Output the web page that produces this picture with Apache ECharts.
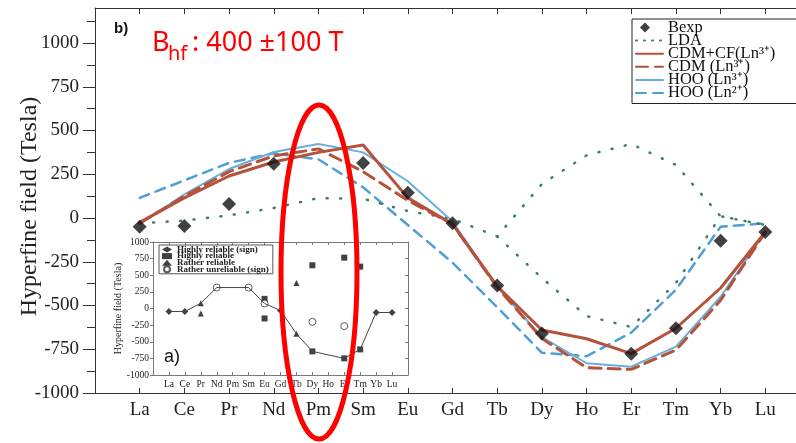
<!DOCTYPE html>
<html>
<head>
<meta charset="utf-8">
<script src="https://cdn.jsdelivr.net/npm/echarts@6/dist/echarts.min.js"></script>
<style>
html, body { margin: 0; padding: 0; background: #fff; }
#chart-container { width: 796px; height: 443px; }
</style>
</head>
<body>
<div id="chart-container"></div>
<script>
var dom = document.getElementById('chart-container');
var myChart = echarts.init(dom, null, {
    renderer: 'canvas',
    useDirtyRect: false
});

// lanthanides along the x axis
var elements = ['La', 'Ce', 'Pr', 'Nd', 'Pm', 'Sm', 'Eu', 'Gd', 'Tb', 'Dy', 'Ho', 'Er', 'Tm', 'Yb', 'Lu'];

// main panel b), hyperfine field in Tesla
var bexp    = [-50, -45, 80, 310, null, 315, 145, -30, -385, -660, null, -775, -630, -130, -80];
var ldaUp   = [-30, -15, 15, 57, 114, 110, 40, -5, -105, 194, 358, 423, 303, 10, -40];
var ldaDown = [null, null, null, null, null, null, null, null, -105, -343, -560, -623, -371, 10, -40];
var cdmCf   = [-25, 115, 240, 320, 375, 417, 115, -35, -390, -640, -690, -775, -630, -400, -80];
var cdm     = [-30, 125, 265, 355, 395, 265, 100, -35, -395, -688, -855, -865, -755, -470, -80];
var hoo3    = [-35, 135, 280, 377, 423, 375, 210, -20, -395, -680, -830, -850, -735, -450, -80];
var hoo2    = [115, 215, 315, 370, 335, 175, -40, -255, -510, -770, -790, -655, -410, -50, -30];

var yTicks = [-1000, -750, -500, -250, 0, 250, 500, 750, 1000];
var yMinor = [-875, -625, -375, -125, 125, 375, 625, 875, 1125];

// inset a)
var insetLine = [-45, -45, 80, 315, null, 315, 75, -30, -380, -645, null, -750, -615, -60, -60];
var insetSign = [['La', -45], ['Ce', -45], ['Gd', -30], ['Yb', -60], ['Lu', -60]];
var insetHighly = [['Eu', 145], ['Eu', -150], ['Dy', -645], ['Dy', 650], ['Er', -750], ['Er', 765], ['Tm', -615], ['Tm', 630]];
var insetRather = [['Pr', 80], ['Pr', -75], ['Tb', -380], ['Tb', 385]];
var insetUnrel = [['Nd', 315], ['Sm', 315], ['Eu', 75], ['Dy', -200], ['Er', -265]];

var serif = 'Liberation Serif';
var brown = '#b5523b';
var blue = '#6aaedb';
var blueDash = '#4f9fd4';
var green = '#3c7d62';

function pairs(values) {
    return values.map(function (v, i) { return [i, v]; });
}
function points(list) {
    return list.map(function (p) { return [elements.indexOf(p[0]), p[1]]; });
}
function elementLabel(v) {
    return elements[v] || '';
}
function plain(v) {
    return String(v);
}
function legendText(name) {
    return name.replace('Ln3+', 'Ln\u00b3\u207a').replace('Ln2+', 'Ln\u00b2\u207a');
}

function lineSeries(name, values, color, width, type) {
    return {
        name: name,
        type: 'line',
        xAxisIndex: 0,
        yAxisIndex: 0,
        data: pairs(values),
        symbol: 'none',
        lineStyle: { color: color, width: width, type: type, cap: 'round' },
        itemStyle: { color: color },
        silent: true
    };
}

function xAxisOf(grid, pos, color, tickLen, label) {
    return {
        gridIndex: grid, type: 'value', position: pos, min: -1, max: 15, interval: 1,
        axisLine: { onZero: false, lineStyle: { color: color } },
        axisTick: { inside: true, length: tickLen, lineStyle: { color: color } },
        axisLabel: label || { show: false },
        splitLine: { show: false }
    };
}

var hideSymbol = { opacity: 0 };
// small diamond sitting in a wide icon box, so the legend does not stretch it
var diamondIcon = 'path://M0,5L0.01,5M9,0L14,5L9,10L4,5ZM27,5L27.01,5';

var option = {
    animation: false,
    grid: [
        { left: 95, top: 8, width: 715, height: 385, outerBoundsMode: 'none', containLabel: false },
        { left: 153, top: 242, width: 255, height: 133, show: true, backgroundColor: '#fff', borderWidth: 0,
          outerBoundsMode: 'none', containLabel: false }
    ],
    xAxis: [
        xAxisOf(0, 'bottom', '#333', 5, { formatter: elementLabel, fontFamily: serif, fontSize: 19, color: '#222', margin: 8 }),
        xAxisOf(0, 'top', '#333', 6),
        xAxisOf(1, 'bottom', '#777', 3, { formatter: elementLabel, fontFamily: serif, fontSize: 9.5, color: '#222', margin: 4 }),
        xAxisOf(1, 'top', '#777', 3)
    ],
    yAxis: [
        {
            gridIndex: 0, type: 'value', position: 'left', min: -1000, max: 1200,
            axisLine: { show: true, onZero: false, lineStyle: { color: '#333' } },
            axisTick: { show: true, length: 12, customValues: yTicks, lineStyle: { color: '#333' } },
            axisLabel: { customValues: yTicks, formatter: plain, fontFamily: serif, fontSize: 19, color: '#222', margin: 16 },
            splitLine: { show: false },
            name: 'Hyperfine field (Tesla)',
            nameLocation: 'middle',
            nameGap: 53,
            nameMoveOverlap: false,
            nameTextStyle: { fontFamily: serif, fontSize: 24, color: '#222', padding: [0, 12, 0, 0] }
        },
        {
            gridIndex: 0, type: 'value', position: 'left', min: -1000, max: 1200,
            axisLine: { show: false, onZero: false },
            axisTick: { show: true, length: 8, customValues: yMinor, lineStyle: { color: '#333' } },
            axisLabel: { show: false },
            splitLine: { show: false }
        },
        {
            gridIndex: 1, type: 'value', position: 'left', min: -1000, max: 1000, interval: 250,
            axisLine: { show: true, onZero: false, lineStyle: { color: '#777' } },
            axisTick: { show: true, length: 3, lineStyle: { color: '#777' } },
            axisLabel: { formatter: plain, fontFamily: serif, fontSize: 9.5, color: '#222', margin: 4 },
            splitLine: { show: false },
            name: 'Hyperfine field (Tesla)',
            nameLocation: 'middle',
            nameGap: 26,
            nameTextStyle: { fontFamily: serif, fontSize: 10, color: '#222' }
        },
        {
            gridIndex: 1, type: 'value', position: 'right', min: -1000, max: 1000, interval: 250,
            axisLine: { show: true, onZero: false, lineStyle: { color: '#777' } },
            axisTick: { show: true, inside: true, length: 3, lineStyle: { color: '#777' } },
            axisLabel: { show: false },
            splitLine: { show: false }
        }
    ],
    legend: [
        {
            data: [
                { name: 'Bexp', icon: diamondIcon },
                { name: 'LDA', lineStyle: { type: [1, 7] }, itemStyle: hideSymbol },
                { name: 'CDM+CF(Ln3+)', itemStyle: hideSymbol },
                { name: 'CDM (Ln3+)', itemStyle: hideSymbol },
                { name: 'HOO (Ln3+)', itemStyle: hideSymbol },
                { name: 'HOO (Ln2+)', itemStyle: hideSymbol }
            ],
            orient: 'vertical',
            left: 632, top: 19,
            itemWidth: 27, itemHeight: 10, itemGap: -3.9,
            backgroundColor: '#fff', borderColor: '#222', borderWidth: 1,
            padding: [0, 60, 2, 3],
            selectedMode: false,
            formatter: legendText,
            textStyle: { fontFamily: serif, fontSize: 16.5, color: '#111' }
        },
        {
            data: ['Highly reliable (sign)', 'Highly reliable', 'Rather reliable', 'Rather unreliable (sign)'],
            orient: 'vertical',
            left: 159, top: 245,
            itemWidth: 10, itemHeight: 6, itemGap: -2.4,
            backgroundColor: '#fff', borderColor: '#555', borderWidth: 1,
            padding: [0, 4, 0, 3],
            selectedMode: false,
            textStyle: { fontFamily: serif, fontSize: 9, fontWeight: 'bold', color: '#222' }
        }
    ],
    series: [
        lineSeries('HOO (Ln2+)', hoo2, blueDash, 2.5, [10, 7]),
        lineSeries('LDA', ldaUp, green, 2.5, [1, 12.5]),
        lineSeries('LDA', ldaDown, green, 2.5, [1, 12.5]),
        lineSeries('HOO (Ln3+)', hoo3, blue, 2, 'solid'),
        lineSeries('CDM (Ln3+)', cdm, brown, 3, [12, 7]),
        lineSeries('CDM+CF(Ln3+)', cdmCf, brown, 3, 'solid'),
        {
            name: 'Bexp', type: 'scatter', xAxisIndex: 0, yAxisIndex: 0,
            data: pairs(bexp).filter(function (p) { return p[1] !== null; }),
            symbol: 'diamond', symbolSize: 14,
            itemStyle: { color: '#111' }, silent: true, z: 4
        },
        {
            name: 'inset', type: 'line', xAxisIndex: 2, yAxisIndex: 2,
            data: pairs(insetLine), connectNulls: true, symbol: 'none',
            lineStyle: { color: '#444', width: 1 }, silent: true
        },
        {
            name: 'Highly reliable (sign)', type: 'scatter', xAxisIndex: 2, yAxisIndex: 2,
            data: points(insetSign), symbol: 'diamond', symbolSize: 7,
            itemStyle: { color: '#111' }, silent: true
        },
        {
            name: 'Highly reliable', type: 'scatter', xAxisIndex: 2, yAxisIndex: 2,
            data: points(insetHighly), symbol: 'rect', symbolSize: 6,
            itemStyle: { color: '#111' }, silent: true
        },
        {
            name: 'Rather reliable', type: 'scatter', xAxisIndex: 2, yAxisIndex: 2,
            data: points(insetRather), symbol: 'triangle', symbolSize: 6,
            itemStyle: { color: '#111' }, silent: true
        },
        {
            name: 'Rather unreliable (sign)', type: 'scatter', xAxisIndex: 2, yAxisIndex: 2,
            data: points(insetUnrel), symbol: 'circle', symbolSize: 7,
            itemStyle: { color: '#fff', borderColor: '#333', borderWidth: 1 }, silent: true
        }
    ],
    graphic: [
        { type: 'text', x: 114, y: 21, style: { text: 'b)', font: 'bold 15px "Liberation Sans"', fill: '#111' } },
        { type: 'text', x: 164, y: 348, style: { text: 'a)', font: '18px "Liberation Sans"', fill: '#111' } },
        { type: 'text', x: 152, y: 30, style: { text: 'B', font: '27px "Noto Sans"', fill: '#ff0000' } },
        { type: 'text', x: 168, y: 44, style: { text: 'hf', font: '20px "Noto Sans"', fill: '#ff0000' } },
        { type: 'text', x: 192, y: 30, style: { text: ': 400 \u00b1100 T', font: '27px "Noto Sans"', fill: '#ff0000' } },
        {
            type: 'ellipse', z: 100,
            shape: { cx: 319, cy: 272, rx: 38, ry: 167 },
            style: { fill: 'none', stroke: '#ff0000', lineWidth: 5 }
        }
    ]
};

if (option && typeof option === 'object') {
    myChart.setOption(option);
}

window.addEventListener('resize', myChart.resize);
</script>
</body>
</html>
